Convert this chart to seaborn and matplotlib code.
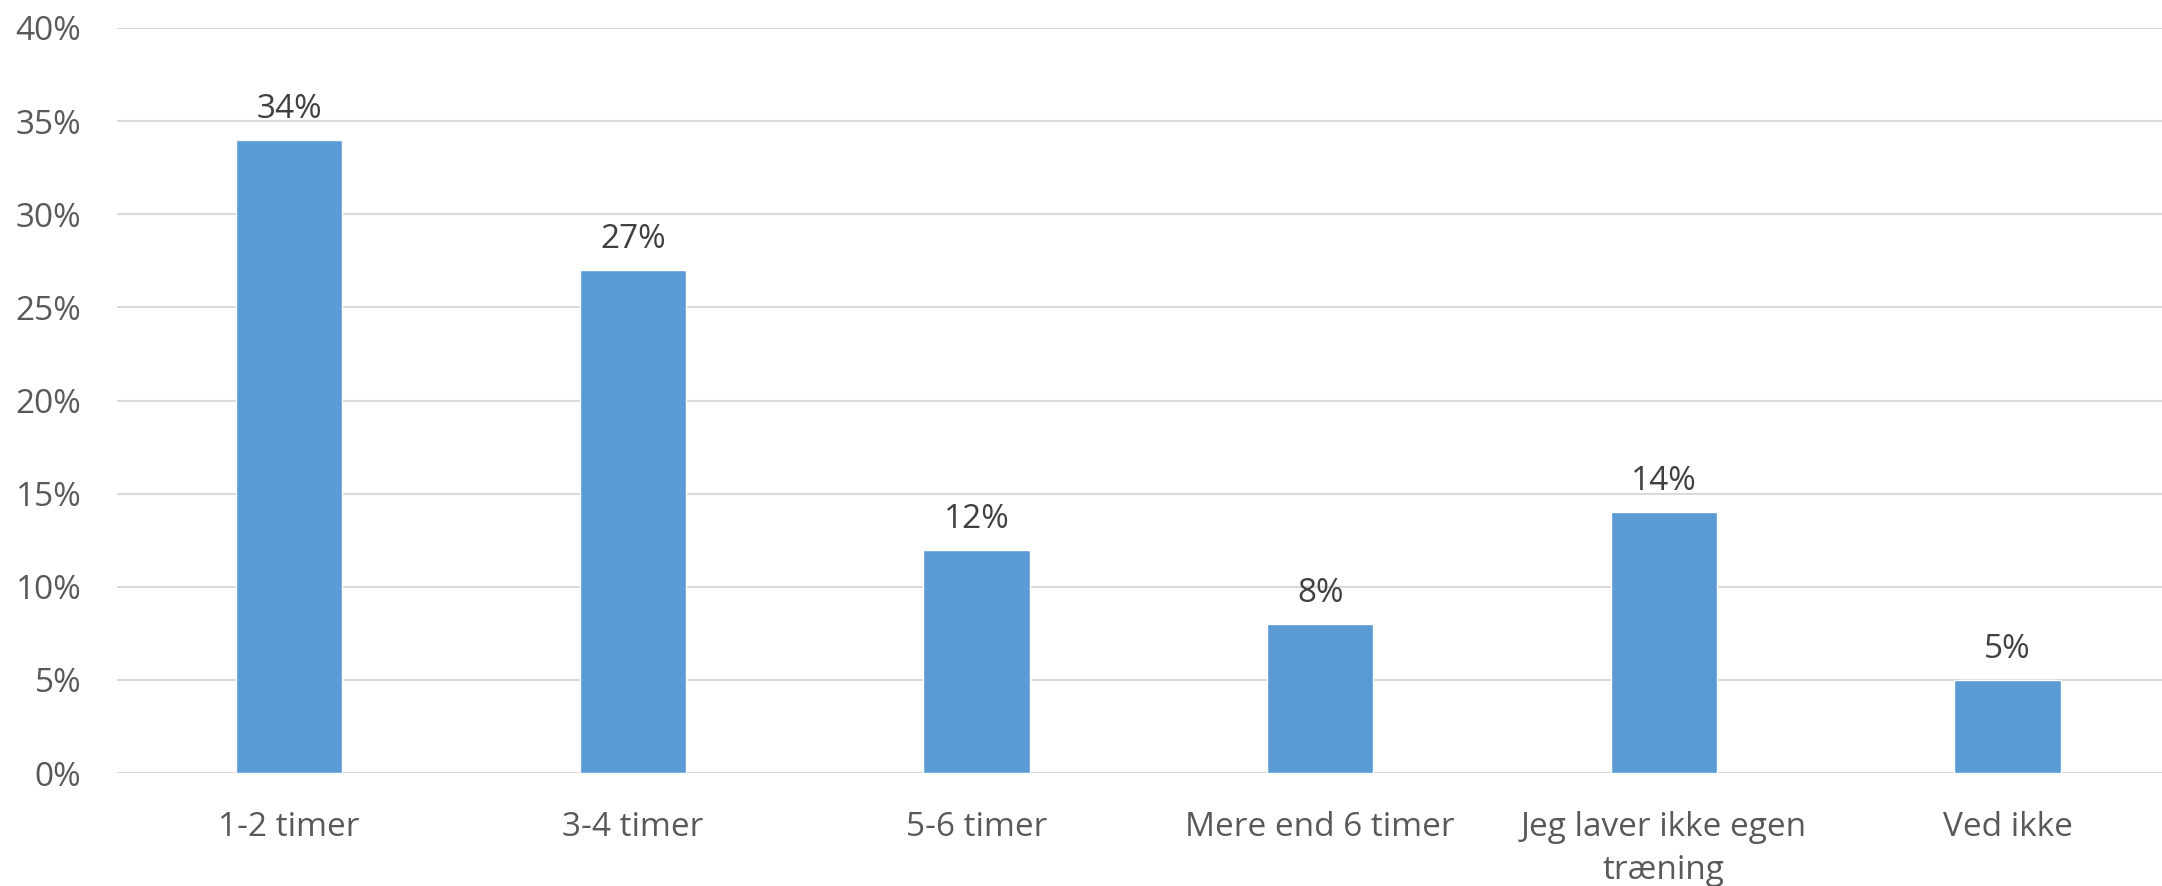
import matplotlib
matplotlib.use("Agg")
import matplotlib.pyplot as plt
import seaborn as sns
import pandas as pd

categories = ["1-2 timer", "3-4 timer", "5-6 timer", "Mere end 6 timer",
              "Jeg laver ikke egen\ntræning", "Ved ikke"]
values = [34, 27, 12, 8, 14, 5]
yticks = [0, 5, 10, 15, 20, 25, 30, 35, 40]

df = pd.DataFrame({"kategori": categories, "andel": values})

sns.set_theme(style="white")
plt.rcParams["font.family"] = ["Open Sans", "DejaVu Sans"]

fig = plt.figure(figsize=(21.62, 8.86), dpi=100)
ax = fig.add_axes([0.0543, 0.1275, 0.9537, 0.8409])

sns.barplot(data=df, x="kategori", y="andel", color="#5B9BD5", width=0.31,
            saturation=1, ax=ax, zorder=3)

ax.set_ylim(0, 40)
ax.set_yticks(yticks)
ax.set_yticklabels([f"{t}%" for t in yticks])
ax.yaxis.grid(True, color="#D9D9D9", linewidth=1.5, zorder=0)
ax.set_axisbelow(True)
for s in ax.spines.values():
    s.set_visible(False)
ax.set_xlabel("")
ax.set_ylabel("")
ax.tick_params(axis="y", labelsize=24, labelcolor="#595959", length=0, pad=26)
ax.tick_params(axis="x", labelsize=24, labelcolor="#595959", length=0, pad=27)
for lbl in ax.get_xticklabels():
    lbl.set_linespacing(1.4)
    lbl.set_verticalalignment("top")

for i, v in enumerate(values):
    ax.annotate(f"{v}%", (i, v), xytext=(0, 10), textcoords="offset points",
                ha="center", va="bottom", fontsize=24, color="#404040")

fig.savefig("out.png", dpi=100, facecolor="white")
